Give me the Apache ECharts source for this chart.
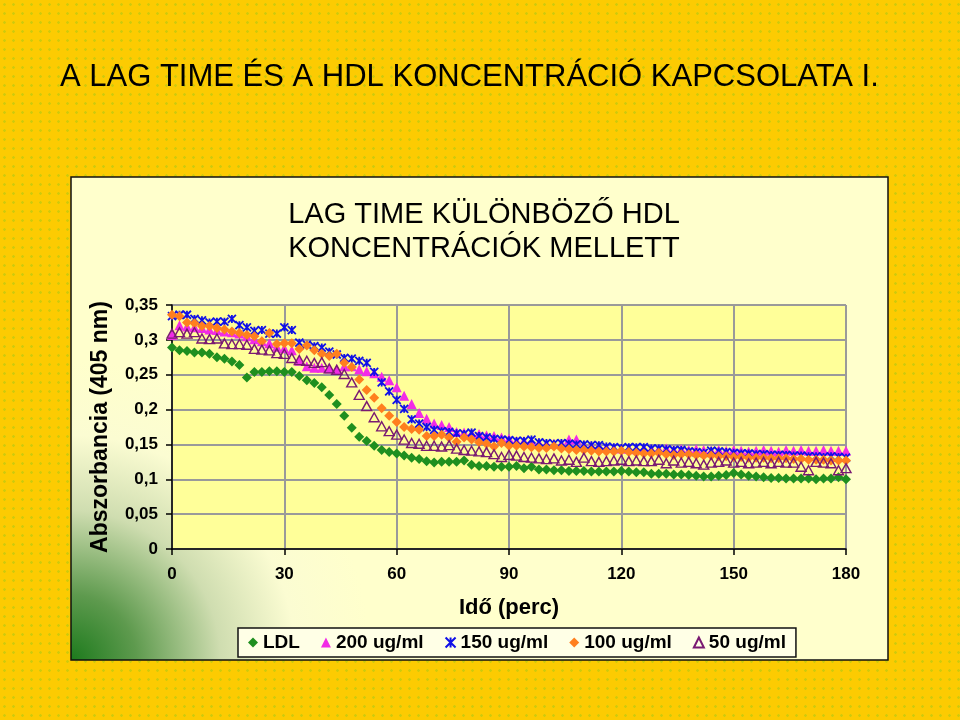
<!DOCTYPE html>
<html>
<head>
<meta charset="utf-8">
<script src="https://cdn.jsdelivr.net/npm/echarts@6/dist/echarts.min.js"></script>
<style>
html,body{margin:0;padding:0;}
body{width:960px;height:720px;background-color:#FCCB02;
background-image:radial-gradient(rgba(170,200,20,0.55) 1px, transparent 1.6px);
background-size:9px 9px;}
#c{width:960px;height:720px;}
</style>
</head>
<body>
<div id="c"></div>
<script>
var times = [0,2,4,6,8,10,12,14,16,18,20,22,24,26,28,30,32,34,36,38,40,42,44,46,48,50,52,54,56,58,60,62,64,66,68,70,72,74,76,78,80,82,84,86,88,90,92,94,96,98,100,102,104,106,108,110,112,114,116,118,120,122,124,126,128,130,132,134,136,138,140,142,144,146,148,150,152,154,156,158,160,162,164,166,168,170,172,174,176,178,180];

var ldl = [0.289,0.285,0.284,0.282,0.282,0.280,0.275,0.273,0.269,0.264,0.246,0.254,0.254,0.255,0.255,0.254,0.254,0.248,0.242,0.238,0.232,0.221,0.208,0.191,0.174,0.161,0.155,0.148,0.142,0.139,0.137,0.134,0.131,0.129,0.126,0.124,0.125,0.125,0.125,0.127,0.121,0.119,0.119,0.118,0.118,0.118,0.119,0.116,0.118,0.114,0.114,0.113,0.113,0.112,0.112,0.112,0.111,0.111,0.111,0.111,0.112,0.111,0.110,0.110,0.108,0.108,0.108,0.107,0.107,0.106,0.105,0.104,0.104,0.105,0.106,0.109,0.107,0.105,0.104,0.103,0.102,0.102,0.101,0.101,0.101,0.101,0.100,0.101,0.101,0.103,0.100];

var c200 = [0.307,0.321,0.319,0.318,0.317,0.315,0.314,0.312,0.311,0.309,0.305,0.301,0.298,0.295,0.290,0.288,0.285,0.270,0.262,0.260,0.260,0.259,0.258,0.262,0.262,0.258,0.255,0.252,0.247,0.242,0.232,0.220,0.208,0.195,0.187,0.180,0.178,0.175,0.168,0.167,0.166,0.165,0.163,0.162,0.160,0.158,0.155,0.155,0.154,0.152,0.151,0.151,0.151,0.157,0.157,0.149,0.148,0.147,0.146,0.145,0.144,0.144,0.143,0.144,0.143,0.143,0.144,0.142,0.143,0.142,0.143,0.142,0.141,0.142,0.141,0.142,0.141,0.140,0.141,0.142,0.141,0.140,0.142,0.141,0.142,0.141,0.141,0.142,0.141,0.141,0.141];

var c150 = [0.334,0.336,0.336,0.330,0.328,0.325,0.326,0.326,0.330,0.321,0.318,0.313,0.314,0.309,0.309,0.318,0.314,0.296,0.293,0.291,0.289,0.283,0.279,0.274,0.273,0.270,0.267,0.254,0.239,0.226,0.214,0.201,0.186,0.180,0.175,0.171,0.169,0.168,0.166,0.165,0.167,0.162,0.160,0.158,0.157,0.156,0.155,0.155,0.157,0.153,0.152,0.151,0.152,0.151,0.150,0.150,0.149,0.149,0.147,0.146,0.145,0.146,0.146,0.146,0.144,0.144,0.143,0.142,0.142,0.140,0.139,0.138,0.141,0.140,0.139,0.138,0.137,0.137,0.136,0.136,0.135,0.135,0.135,0.134,0.134,0.133,0.133,0.132,0.133,0.132,0.131];

var c100 = [0.336,0.334,0.325,0.324,0.320,0.320,0.317,0.315,0.312,0.310,0.307,0.305,0.298,0.310,0.294,0.295,0.295,0.287,0.292,0.285,0.280,0.277,0.280,0.267,0.261,0.243,0.228,0.217,0.202,0.191,0.182,0.175,0.172,0.171,0.162,0.162,0.164,0.160,0.154,0.160,0.157,0.153,0.151,0.147,0.152,0.148,0.148,0.147,0.146,0.145,0.145,0.147,0.144,0.143,0.142,0.142,0.141,0.140,0.140,0.140,0.141,0.139,0.138,0.137,0.137,0.138,0.136,0.135,0.136,0.136,0.135,0.134,0.134,0.133,0.133,0.132,0.132,0.131,0.131,0.131,0.130,0.130,0.130,0.129,0.129,0.128,0.128,0.128,0.127,0.127,0.127];

var c50 = [0.309,0.311,0.309,0.311,0.302,0.301,0.302,0.295,0.294,0.294,0.293,0.287,0.286,0.285,0.281,0.280,0.274,0.271,0.270,0.267,0.268,0.259,0.257,0.251,0.239,0.221,0.205,0.189,0.176,0.169,0.164,0.157,0.152,0.151,0.148,0.148,0.147,0.149,0.144,0.142,0.141,0.140,0.139,0.136,0.132,0.135,0.134,0.132,0.131,0.130,0.129,0.130,0.127,0.128,0.125,0.131,0.126,0.125,0.126,0.127,0.128,0.126,0.127,0.126,0.126,0.128,0.123,0.127,0.124,0.125,0.123,0.121,0.124,0.125,0.127,0.124,0.125,0.123,0.124,0.125,0.123,0.125,0.124,0.124,0.118,0.113,0.125,0.124,0.123,0.113,0.116];

var seriesNames = ['LDL','200 ug/ml','150 ug/ml','100 ug/ml','50 ug/ml'];
var yTickLabels = ['0','0,05','0,1','0,15','0,2','0,25','0,3','0,35'];
var xTickLabels = ['0','30','60','90','120','150','180'];
var mainTitle = 'A LAG TIME ÉS A HDL KONCENTRÁCIÓ KAPCSOLATA I.';
var chartTitle = 'LAG TIME KÜLÖNBÖZŐ HDL\nKONCENTRÁCIÓK MELLETT';
var yName = 'Abszorbancia (405 nm)';
var xName = 'Idő (perc)';

function pairs(vals){ return times.map(function(t,i){ return [t, vals[i]]; }); }

var starPath = 'path://M0,0L10,10M10,0L0,10M5,0L5,10';
var F = 'Arial, "Liberation Sans", sans-serif';

var chart = echarts.init(document.getElementById('c'), null, {renderer:'canvas'});
chart.setOption({
  animation:false,
  backgroundColor:'transparent',
  graphic:[{
    type:'rect', z:-10, silent:true,
    shape:{x:71,y:177,width:817,height:483},
    style:{
      fill:{type:'radial', x:0, y:1, r:0.62, colorStops:[
        {offset:0, color:'#1C7A1C'},
        {offset:0.22, color:'#5E9A4E'},
        {offset:0.5, color:'#CFDDB0'},
        {offset:0.75, color:'#FBFCD2'},
        {offset:1, color:'#FFFFCC'}]},
      stroke:'#111', lineWidth:1.5
    }
  }],
  title:[{
    text:mainTitle, left:55, top:57,
    textStyle:{fontFamily:F, fontSize:31, fontWeight:'normal', color:'#000',
      textShadowColor:'rgba(255,255,255,0.9)', textShadowOffsetX:2, textShadowOffsetY:2, textShadowBlur:0}
  },{
    text:chartTitle, left:479, top:193, textAlign:'center',
    textStyle:{fontFamily:F, fontSize:29, fontWeight:'normal', color:'#000', lineHeight:34}
  }],
  grid:{left:172, top:305, width:674, height:244, show:true, backgroundColor:'#FFFF99', borderWidth:0},
  xAxis:{
    type:'value', min:0, max:180, interval:30,
    name:xName, nameLocation:'middle', nameGap:48,
    nameTextStyle:{fontFamily:F, fontSize:22, fontWeight:'bold', color:'#000'},
    axisLine:{show:true, onZero:false, lineStyle:{color:'#000', width:1.5}},
    axisTick:{show:true, inside:false, length:6, lineStyle:{color:'#000', width:1.5}},
    axisLabel:{fontFamily:F, fontSize:17, fontWeight:'bold', color:'#000', margin:17,
      formatter:function(v){ return xTickLabels[Math.round(v/30)]; }},
    splitLine:{show:true, lineStyle:{color:'#9A9A9A', width:2}}
  },
  yAxis:{
    type:'value', min:0, max:0.35, interval:0.05,
    name:yName, nameLocation:'middle', nameGap:60, nameRotate:90,
    nameTextStyle:{fontFamily:F, fontSize:23, fontWeight:'bold', color:'#000'},
    axisLine:{show:true, lineStyle:{color:'#000', width:1.5}},
    axisTick:{show:true, inside:false, length:6, lineStyle:{color:'#000', width:1.5}},
    axisLabel:{fontFamily:F, fontSize:17, fontWeight:'bold', color:'#000', margin:14,
      formatter:function(v){ return yTickLabels[Math.round(v/0.05)]; }},
    splitLine:{show:true, lineStyle:{color:'#9A9A9A', width:2}}
  },
  legend:{
    left:238, top:628,
    padding:[5,10,5,10], itemGap:21,
    itemWidth:10, itemHeight:10,
    backgroundColor:'#FFFFE6', borderColor:'#111', borderWidth:1.5,
    textStyle:{fontFamily:F, fontSize:19, fontWeight:'bold', color:'#000'},
    data:[
      {name:seriesNames[0], icon:'diamond'},
      {name:seriesNames[1], icon:'triangle'},
      {name:seriesNames[2], icon:starPath},
      {name:seriesNames[3], icon:'diamond'},
      {name:seriesNames[4], icon:'triangle'}
    ]
  },
  series:[
    {name:seriesNames[0], type:'scatter', symbol:'diamond', symbolSize:10,
      itemStyle:{color:'#1F8F1F', opacity:1}, data:pairs(ldl)},
    {name:seriesNames[1], type:'scatter', symbol:'triangle', symbolSize:[10,10],
      itemStyle:{color:'#F22BE6', opacity:1}, data:pairs(c200)},
    {name:seriesNames[2], type:'scatter', symbol:starPath, symbolSize:[8,8],
      itemStyle:{color:'#1010E8', borderColor:'#1010E8', borderWidth:1.8, opacity:1}, data:pairs(c150)},
    {name:seriesNames[3], type:'scatter', symbol:'diamond', symbolSize:10,
      itemStyle:{color:'#FF7F1E', opacity:1}, data:pairs(c100)},
    {name:seriesNames[4], type:'scatter', symbol:'triangle', symbolSize:[10,9],
      itemStyle:{color:'rgba(0,0,0,0)', borderColor:'#7A1A72', borderWidth:1.4, opacity:1}, data:pairs(c50)}
  ]
});
</script>
</body>
</html>
